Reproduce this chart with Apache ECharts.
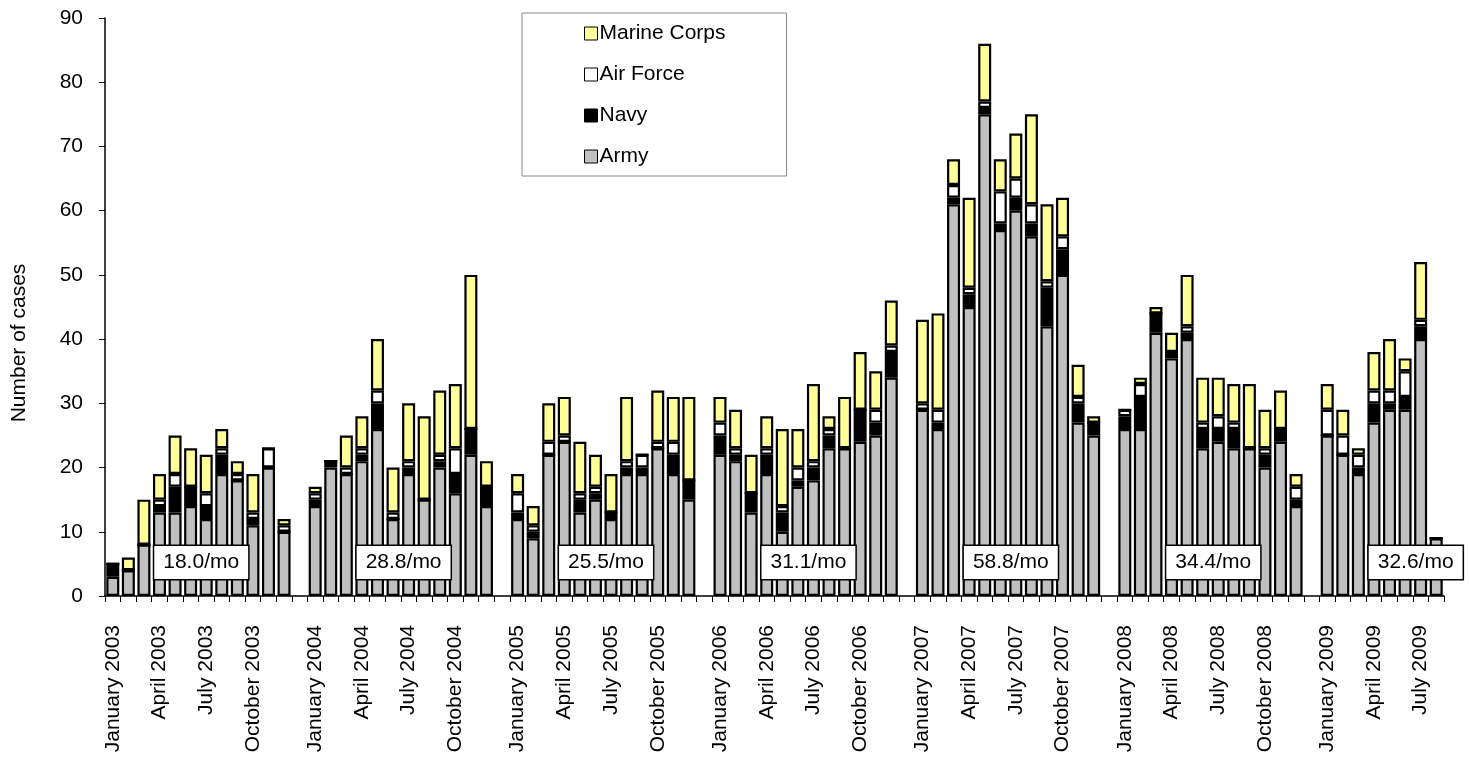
<!DOCTYPE html>
<html>
<head>
<meta charset="utf-8">
<script src="https://cdn.jsdelivr.net/npm/echarts@6/dist/echarts.min.js"></script>
<style>
  html, body { margin: 0; padding: 0; background: #fff; }
  #main { width: 1470px; height: 758px; }
</style>
</head>
<body>
<div id="main"></div>
<script>
// months Jan 2003 .. Aug 2009, a blank slot is put between the years
var monthNames = ['January', 'February', 'March', 'April', 'May', 'June', 'July',
                  'August', 'September', 'October', 'November', 'December'];
var years = [2003, 2004, 2005, 2006, 2007, 2008, 2009];
var lastYearMonths = 8;

var army = [
    3, 4, 8, 13, 13, 14, 12, 19, 18, 11, 20, 10,
    14, 20, 19, 21, 26, 12, 19, 15, 20, 16, 22, 14,
    12, 9, 22, 24, 13, 15, 12, 19, 19, 23, 19, 15,
    22, 21, 13, 19, 10, 17, 18, 23, 23, 24, 25, 34,
    29, 26, 61, 45, 75, 57, 60, 56, 42, 50, 27, 25,
    26, 26, 41, 37, 40, 23, 24, 23, 23, 20, 24, 14,
    25, 22, 19, 27, 29, 29, 40, 9
];
var navy = [
    2, 0, 0, 1, 4, 3, 2, 3, 0, 1, 0, 0,
    1, 1, 0, 1, 4, 0, 1, 0, 1, 3, 4, 3,
    1, 1, 0, 0, 2, 1, 1, 1, 1, 0, 3, 3,
    3, 1, 3, 3, 3, 1, 2, 2, 0, 5, 2, 4,
    0, 1, 1, 2, 1, 1, 2, 2, 6, 4, 3, 2,
    2, 5, 3, 1, 1, 3, 2, 3, 0, 2, 2, 1,
    0, 0, 1, 3, 1, 2, 2, 0
];
var airForce = [
    0, 0, 0, 1, 2, 0, 2, 1, 1, 1, 3, 1,
    1, 0, 1, 1, 2, 1, 1, 0, 1, 4, 0, 0,
    3, 1, 2, 1, 1, 1, 0, 1, 2, 1, 2, 0,
    2, 1, 0, 1, 1, 2, 1, 1, 0, 0, 2, 1,
    1, 2, 2, 1, 1, 5, 3, 3, 1, 2, 1, 0,
    1, 2, 0, 0, 1, 1, 2, 1, 0, 1, 0, 2,
    4, 3, 2, 2, 2, 4, 1, 0
];
var marineCorps = [
    0, 2, 7, 4, 6, 6, 6, 3, 2, 6, 0, 1,
    1, 0, 5, 5, 8, 7, 9, 13, 10, 10, 24, 4,
    3, 3, 6, 6, 8, 5, 6, 10, 0, 8, 7, 13,
    4, 6, 6, 5, 12, 6, 12, 2, 8, 9, 6, 7,
    13, 15, 4, 14, 9, 5, 7, 14, 12, 6, 5, 1,
    0, 1, 1, 3, 8, 7, 6, 6, 10, 6, 6, 2,
    4, 4, 1, 6, 8, 2, 9, 0
];
// yearly average, boxed near the foot of each year
var rates = ['18.0/mo', '28.8/mo', '25.5/mo', '31.1/mo', '58.8/mo', '34.4/mo', '32.6/mo'];
var yTicks = [0, 10, 20, 30, 40, 50, 60, 70, 80, 90];
var shownMonths = ['January', 'April', 'July', 'October'];

var FONT = '"Liberation Sans", Arial, sans-serif';

// build category list with the gaps
var categories = [];
var monthSlot = [];   // category index for every month of data
years.forEach(function (y, yi) {
    var n = (yi === years.length - 1) ? lastYearMonths : 12;
    for (var m = 0; m < n; m++) {
        monthSlot.push(categories.length);
        categories.push(monthNames[m] + ' ' + y);
    }
    if (yi < years.length - 1) categories.push('');
});

function spread(values) {
    var out = categories.map(function () { return null; });
    values.forEach(function (v, i) { out[monthSlot[i]] = v; });
    return out;
}

var rateData = years.map(function (y, i) {
    return { value: [categories.indexOf('July ' + y), 5.2], label: { formatter: rates[i] } };
});

function barSeries(name, values, color) {
    return {
        name: name,
        type: 'bar',
        stack: 'cases',
        data: spread(values),
        barWidth: 13,
        itemStyle: { color: color, borderColor: '#000', borderWidth: 2.2 }
    };
}

var chart = echarts.init(document.getElementById('main'));
var option = {
    animation: false,
    textStyle: { fontFamily: FONT },
    grid: { left: 105, top: 18, right: 26, bottom: 162, containLabel: false },
    legend: {
        data: ['Marine Corps', 'Air Force', 'Navy', 'Army'],
        orient: 'vertical',
        left: 522,
        top: 13,
        padding: [10, 61, 9, 62],
        itemGap: 20,
        itemWidth: 13,
        itemHeight: 13,
        icon: 'rect',
        borderColor: '#888',
        borderWidth: 1,
        itemStyle: { borderColor: '#000', borderWidth: 1 },
        textStyle: { fontSize: 21, lineHeight: 21, color: '#000', fontFamily: FONT, padding: [0, 0, 0, -3] }
    },
    xAxis: {
        type: 'category',
        data: categories,
        axisLine: { lineStyle: { color: '#000', width: 1.5 } },
        axisTick: { show: true, length: 6, interval: 0, lineStyle: { color: '#000' } },
        axisLabel: {
            rotate: 90,
            margin: 29,
            fontSize: 21,
            color: '#000',
            fontFamily: FONT,
            interval: function (idx, val) {
                return shownMonths.indexOf(val.split(' ')[0]) >= 0;
            }
        }
    },
    yAxis: {
        type: 'value',
        min: yTicks[0],
        max: yTicks[yTicks.length - 1],
        interval: 10,
        splitLine: { show: false },
        axisLine: { show: true, lineStyle: { color: '#000', width: 1.5 } },
        axisTick: { show: true, length: 6, lineStyle: { color: '#000' } },
        axisLabel: { fontSize: 21, color: '#000', margin: 22, fontFamily: FONT }
    },
    graphic: [{
        type: 'text',
        x: 19,
        y: 343,
        rotation: Math.PI / 2,
        style: {
            text: 'Number of cases',
            fontSize: 21,
            fontFamily: FONT,
            fill: '#000',
            align: 'center',
            verticalAlign: 'middle'
        }
    }],
    series: [
        barSeries('Army', army, '#c0c0c0'),
        barSeries('Navy', navy, '#000000'),
        barSeries('Air Force', airForce, '#ffffff'),
        barSeries('Marine Corps', marineCorps, '#ffff99'),
        {
            name: 'rates',
            type: 'scatter',
            symbolSize: 0,
            z: 10,
            data: rateData,
            itemStyle: { opacity: 1, color: '#fff' },
            label: {
                show: true,
                position: 'inside',
                offset: [-5, 0],
                opacity: 1,
                fontSize: 21,
                lineHeight: 21,
                color: '#000',
                fontFamily: FONT,
                backgroundColor: '#fff',
                borderColor: '#000',
                borderWidth: 1.5,
                padding: [6, 9, 6, 9]
            }
        }
    ]
};
chart.setOption(option);
</script>
</body>
</html>
